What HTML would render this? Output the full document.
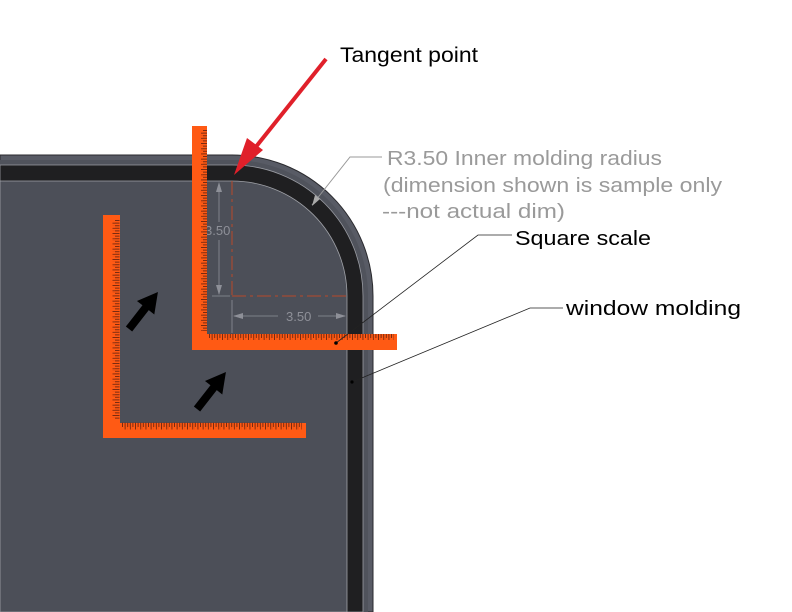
<!DOCTYPE html>
<html><head><meta charset="utf-8"><style>html,body{margin:0;padding:0;background:#fff}svg{display:block}</style></head>
<body>
<svg width="792" height="612" viewBox="0 0 792 612" xmlns="http://www.w3.org/2000/svg" font-family="'Liberation Sans', sans-serif">
<!-- panel outer -->
<path d="M0 155 H232 A141 141 0 0 1 373 296 V612 H0 Z" fill="#585b65" stroke="#2a2a2e" stroke-width="1"/>
<path d="M0 160 H232 A136 136 0 0 1 368 296 V612 H0 Z" fill="#50535c"/>
<path d="M0 165 H232 A131 131 0 0 1 363 296 V612 H0 Z" fill="#1f1f21" stroke="#9a9ca3" stroke-width="0.8"/>
<path d="M0 181 H232 A115 115 0 0 1 347 296 V612 H0 Z" fill="#4c4f58" stroke="#a0a2a8" stroke-width="0.8"/>
<!-- dimension -->
<g stroke="#b84a2a" stroke-width="1" stroke-dasharray="14 4 3 4" fill="none">
<line x1="232" y1="181" x2="232" y2="296"/><line x1="232" y1="296" x2="347" y2="296"/>
</g>
<g stroke="#8e9098" stroke-width="0.8" fill="none">
<line x1="219" y1="184" x2="219" y2="222"/><line x1="219" y1="240" x2="219" y2="294"/>
<line x1="212" y1="296" x2="230" y2="296"/>
<line x1="232" y1="300" x2="232" y2="333"/>
<line x1="234" y1="316" x2="278" y2="316"/><line x1="318" y1="316" x2="345" y2="316"/>
</g>
<g fill="#8e9098"><path d="M219 182 l-3 10 h6z"/><path d="M219 295 l-3 -10 h6z"/><path d="M233 316 l10 -3 v6z"/><path d="M346 316 l-10 -3 v6z"/></g>
<text x="205" y="235" font-size="13" fill="#8e9098">3.50</text>
<text x="286" y="321" font-size="13" fill="#8e9098">3.50</text>
<!-- leaders -->
<polyline points="382,157 350,157 312,205" fill="none" stroke="#999" stroke-width="1"/>
<path d="M312 206 l3 -11 l5 4z" fill="#aaa"/>
<polyline points="563,308 530,308 352,382" fill="none" stroke="#222" stroke-width="0.8"/>
<circle cx="352" cy="382" r="1.6" fill="#000"/>
<!-- small square -->
<rect x="103" y="215" width="17" height="223" fill="#ff5a14"/>
<rect x="103" y="423" width="203" height="15" fill="#ff5a14"/>
<g stroke="#7a2a10" fill="none">
<line x1="116" y1="220" x2="116" y2="420" stroke-width="7" stroke-dasharray="1 1.6"/>
<line x1="122" y1="426" x2="302" y2="426" stroke-width="7" stroke-dasharray="1 1.6"/>
</g>
<g stroke="#ff5a14" fill="none">
<line x1="113.5" y1="220" x2="113.5" y2="420" stroke-width="3" stroke-dasharray="2.6 2.6"/>
<line x1="122" y1="428.5" x2="302" y2="428.5" stroke-width="3" stroke-dasharray="2.6 2.6"/>
</g>
<!-- big square -->
<rect x="192" y="126" width="15" height="224" fill="#ff5a14"/>
<rect x="192" y="334" width="205" height="16" fill="#ff5a14"/>
<g stroke="#7a2a10" fill="none">
<line x1="204" y1="130" x2="204" y2="331" stroke-width="6" stroke-dasharray="1 1.6"/>
<line x1="209" y1="337" x2="394" y2="337" stroke-width="6" stroke-dasharray="1 1.6"/>
</g>
<g stroke="#ff5a14" fill="none">
<line x1="202" y1="130" x2="202" y2="331" stroke-width="2" stroke-dasharray="2.6 2.6"/>
<line x1="209" y1="339" x2="394" y2="339" stroke-width="2" stroke-dasharray="2.6 2.6"/>
</g>
<polyline points="512,235 478,235 336,343" fill="none" stroke="#222" stroke-width="0.8"/>
<circle cx="336" cy="343" r="1.8" fill="#000"/>
<!-- black arrows -->
<g fill="#000">
<path d="M0 -4 H27 V-11 L47 0 L27 11 V4 H0 Z" transform="translate(129 329) rotate(-52)"/>
<path d="M0 -4 H27 V-11 L47 0 L27 11 V4 H0 Z" transform="translate(197 409) rotate(-52)"/>
</g>
<!-- red arrow -->
<line x1="326" y1="59" x2="255" y2="148" stroke="#e0202a" stroke-width="4"/>
<path d="M234 175 L247 138 L263 150 Z" fill="#e0202a"/>
<!-- texts -->
<text x="340" y="62" font-size="21" fill="#000" textLength="138" lengthAdjust="spacingAndGlyphs">Tangent point</text>
<g font-size="20" fill="#9a9a9a">
<text x="387" y="165" textLength="275" lengthAdjust="spacingAndGlyphs">R3.50 Inner molding radius</text>
<text x="383" y="192" textLength="339" lengthAdjust="spacingAndGlyphs">(dimension shown is sample only</text>
<text x="382" y="218" textLength="183" lengthAdjust="spacingAndGlyphs">---not actual dim)</text>
</g>
<text x="515" y="245" font-size="20" fill="#000" textLength="136" lengthAdjust="spacingAndGlyphs">Square scale</text>
<text x="566" y="315" font-size="20" fill="#000" textLength="175" lengthAdjust="spacingAndGlyphs">window molding</text>
</svg>
</body></html>
